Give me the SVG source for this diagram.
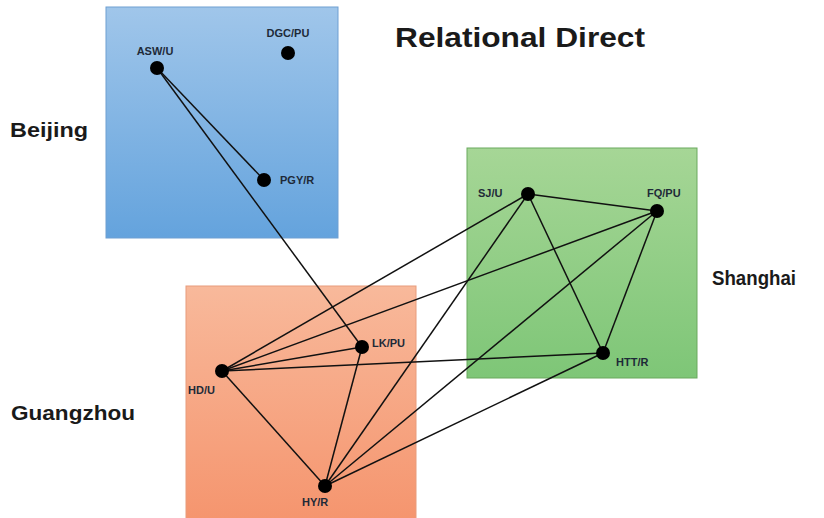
<svg xmlns="http://www.w3.org/2000/svg" width="824" height="518" viewBox="0 0 824 518">
<defs>
<linearGradient id="gBlue" x1="0" y1="0" x2="0" y2="1"><stop offset="0" stop-color="#a0c6ea"/><stop offset="1" stop-color="#64a3dd"/></linearGradient>
<linearGradient id="gGreen" x1="0" y1="0" x2="0" y2="1"><stop offset="0" stop-color="#a6d696"/><stop offset="1" stop-color="#7ec677"/></linearGradient>
<linearGradient id="gOrange" x1="0" y1="0" x2="0" y2="1"><stop offset="0" stop-color="#f8b99b"/><stop offset="1" stop-color="#f5946d"/></linearGradient>
<style>
.region{font-family:"Liberation Sans",Arial,sans-serif;font-weight:bold;font-size:21px;fill:#1a1a1a}
.title{font-family:"Liberation Sans",Arial,sans-serif;font-weight:bold;font-size:28px;fill:#1a1a1a}
.lbl{font-family:"Liberation Sans",Arial,sans-serif;font-weight:bold;font-size:11px;fill:#1e2a38}
.dot{fill:#000}
.edge{stroke:#111;stroke-width:1.5;fill:none}
</style>
</defs>
<rect width="824" height="518" fill="#ffffff"/>
<g id="regions">
<rect id="beijing-box" x="106" y="7" width="232" height="231" fill="url(#gBlue)" stroke="#6e9fd2" stroke-width="1"/>
<rect id="shanghai-box" x="467" y="148" width="230" height="230" fill="url(#gGreen)" stroke="#6aa95f" stroke-width="1"/>
<rect id="guangzhou-box" x="186" y="286" width="230" height="240" fill="url(#gOrange)" stroke="#e89c7c" stroke-width="1"/>
</g>
<text class="title" x="395" y="47" textLength="250" lengthAdjust="spacingAndGlyphs">Relational Direct</text>
<text class="region" x="10" y="137" textLength="78" lengthAdjust="spacingAndGlyphs">Beijing</text>
<text class="region" x="712" y="285" textLength="84" lengthAdjust="spacingAndGlyphs">Shanghai</text>
<text class="region" x="11" y="420" textLength="124" lengthAdjust="spacingAndGlyphs">Guangzhou</text>
<g id="connectors">
<line class="edge" x1="157" y1="68" x2="264" y2="180"/>
<line class="edge" x1="157" y1="68" x2="362" y2="347"/>
<line class="edge" x1="528" y1="194" x2="657" y2="211"/>
<line class="edge" x1="528" y1="194" x2="603" y2="353"/>
<line class="edge" x1="657" y1="211" x2="603" y2="353"/>
<line class="edge" x1="222" y1="371" x2="528" y2="194"/>
<line class="edge" x1="222" y1="371" x2="657" y2="211"/>
<line class="edge" x1="222" y1="371" x2="362" y2="347"/>
<line class="edge" x1="222" y1="371" x2="603" y2="353"/>
<line class="edge" x1="222" y1="371" x2="325" y2="486"/>
<line class="edge" x1="362" y1="347" x2="325" y2="486"/>
<line class="edge" x1="325" y1="486" x2="528" y2="194"/>
<line class="edge" x1="325" y1="486" x2="657" y2="211"/>
<line class="edge" x1="325" y1="486" x2="603" y2="353"/>
</g>
<g id="ASW"><circle class="dot" cx="157" cy="68" r="7"/><text class="lbl" x="155" y="55" text-anchor="middle">ASW/U</text></g>
<g id="DGC"><circle class="dot" cx="288" cy="53" r="7"/><text class="lbl" x="288" y="37" text-anchor="middle">DGC/PU</text></g>
<g id="PGY"><circle class="dot" cx="264" cy="180" r="7"/><text class="lbl" x="280" y="184">PGY/R</text></g>
<g id="SJ"><circle class="dot" cx="528" cy="194" r="7"/><text class="lbl" x="478" y="197">SJ/U</text></g>
<g id="FQ"><circle class="dot" cx="657" cy="211" r="7"/><text class="lbl" x="647" y="197">FQ/PU</text></g>
<g id="HTT"><circle class="dot" cx="603" cy="353" r="7"/><text class="lbl" x="616" y="366">HTT/R</text></g>
<g id="LK"><circle class="dot" cx="362" cy="347" r="7"/><text class="lbl" x="372" y="347">LK/PU</text></g>
<g id="HD"><circle class="dot" cx="222" cy="371" r="7"/><text class="lbl" x="188" y="394">HD/U</text></g>
<g id="HY"><circle class="dot" cx="325" cy="486" r="7"/><text class="lbl" x="302" y="506">HY/R</text></g>
</svg>
